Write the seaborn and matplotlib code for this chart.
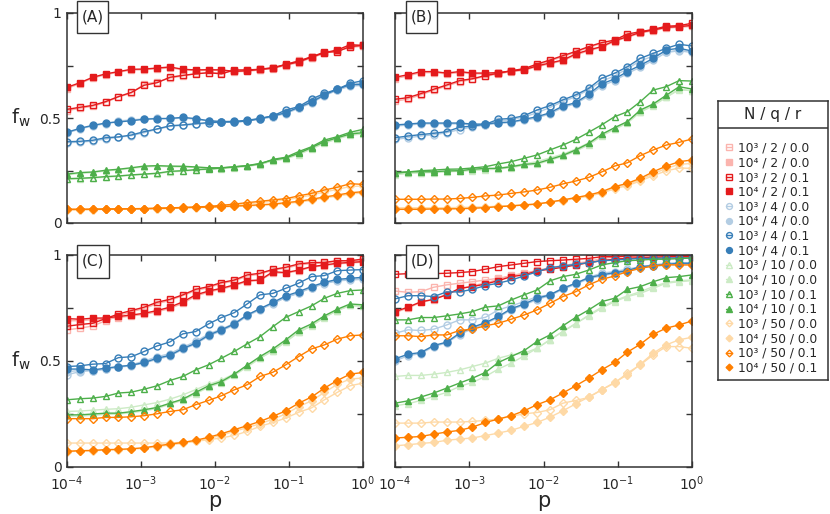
import numpy as np
import matplotlib
matplotlib.use("Agg")
import matplotlib.pyplot as plt
import seaborn as sns
from matplotlib.patches import Rectangle
from matplotlib.ticker import FixedLocator, FuncFormatter, NullLocator

# ---------------- data ----------------
P = np.logspace(-4, 0, 24)   # sampling grid of p

Q_VALUES = [2, 4, 10, 50]
N_LABELS = ["3", "4"]
R_VALUES = ["0.0", "0.1"]
N_TEXT = {"3": "10\u00b3", "4": "10\u2074"}

# Panel A
A_2_3_00 = [0.535,0.546,0.556,0.574,0.600,0.618,0.662,0.672,0.690,0.700,0.712,0.714,0.715,0.725,0.727,0.730,0.735,0.752,0.775,0.788,0.810,0.820,0.836,0.842]
A_2_4_00 = [0.640,0.664,0.690,0.706,0.718,0.728,0.730,0.734,0.738,0.730,0.726,0.727,0.727,0.720,0.722,0.729,0.737,0.750,0.764,0.786,0.808,0.821,0.845,0.842]
A_2_3_01 = [0.541,0.551,0.560,0.578,0.602,0.622,0.656,0.668,0.694,0.703,0.710,0.716,0.710,0.729,0.729,0.732,0.737,0.756,0.771,0.792,0.813,0.816,0.840,0.846]
A_2_4_01 = [0.646,0.668,0.694,0.710,0.721,0.732,0.733,0.738,0.743,0.732,0.729,0.730,0.729,0.722,0.725,0.732,0.740,0.754,0.767,0.790,0.811,0.824,0.849,0.846]
A_4_3_00 = [0.382,0.385,0.390,0.400,0.408,0.416,0.430,0.446,0.460,0.465,0.470,0.476,0.480,0.480,0.485,0.495,0.506,0.530,0.548,0.585,0.612,0.632,0.658,0.668]
A_4_4_00 = [0.428,0.448,0.462,0.473,0.486,0.491,0.496,0.498,0.496,0.500,0.494,0.486,0.482,0.482,0.487,0.495,0.506,0.521,0.546,0.571,0.606,0.632,0.652,0.655]
A_4_3_01 = [0.387,0.389,0.394,0.406,0.410,0.419,0.435,0.448,0.463,0.467,0.473,0.478,0.481,0.481,0.486,0.497,0.510,0.538,0.554,0.590,0.617,0.637,0.665,0.678]
A_4_4_01 = [0.432,0.451,0.465,0.476,0.481,0.487,0.494,0.497,0.498,0.503,0.497,0.487,0.483,0.484,0.489,0.498,0.510,0.525,0.551,0.576,0.610,0.637,0.659,0.660]
A_10_3_00 = [0.208,0.210,0.214,0.218,0.222,0.227,0.231,0.235,0.243,0.247,0.252,0.255,0.259,0.264,0.270,0.278,0.298,0.308,0.335,0.356,0.388,0.405,0.425,0.438]
A_10_4_00 = [0.230,0.236,0.240,0.248,0.253,0.260,0.267,0.270,0.268,0.267,0.264,0.260,0.261,0.265,0.270,0.280,0.295,0.305,0.326,0.352,0.380,0.400,0.418,0.424]
A_10_3_01 = [0.211,0.213,0.216,0.221,0.224,0.229,0.233,0.237,0.246,0.249,0.254,0.257,0.262,0.267,0.273,0.281,0.303,0.313,0.340,0.363,0.395,0.411,0.432,0.446]
A_10_4_01 = [0.233,0.240,0.243,0.251,0.256,0.263,0.271,0.273,0.271,0.270,0.267,0.263,0.263,0.268,0.273,0.284,0.300,0.310,0.332,0.359,0.387,0.406,0.424,0.430]
A_50_3_00 = [0.063,0.063,0.064,0.065,0.065,0.066,0.067,0.068,0.070,0.072,0.074,0.077,0.080,0.085,0.091,0.097,0.104,0.110,0.121,0.133,0.148,0.160,0.174,0.176]
A_50_4_00 = [0.063,0.063,0.064,0.065,0.065,0.066,0.067,0.068,0.069,0.071,0.073,0.074,0.076,0.079,0.081,0.084,0.087,0.093,0.099,0.108,0.119,0.128,0.138,0.143]
A_50_3_01 = [0.065,0.065,0.066,0.066,0.067,0.068,0.069,0.070,0.072,0.074,0.076,0.079,0.084,0.090,0.097,0.103,0.110,0.116,0.129,0.141,0.157,0.170,0.187,0.184]
A_50_4_01 = [0.065,0.065,0.065,0.067,0.067,0.068,0.068,0.070,0.071,0.073,0.075,0.076,0.078,0.081,0.083,0.087,0.090,0.097,0.103,0.113,0.124,0.133,0.144,0.149]

# Panel B
B_2_3_00 = [0.580,0.590,0.610,0.632,0.652,0.672,0.684,0.698,0.710,0.722,0.733,0.752,0.772,0.792,0.813,0.836,0.855,0.870,0.895,0.908,0.920,0.932,0.936,0.944]
B_2_4_00 = [0.688,0.700,0.716,0.716,0.710,0.716,0.710,0.710,0.713,0.720,0.727,0.744,0.758,0.772,0.800,0.820,0.836,0.864,0.884,0.904,0.916,0.928,0.932,0.936]
B_2_3_01 = [0.589,0.597,0.616,0.637,0.657,0.678,0.687,0.702,0.713,0.725,0.735,0.757,0.776,0.797,0.817,0.840,0.859,0.871,0.900,0.911,0.922,0.937,0.940,0.951]
B_2_4_01 = [0.694,0.706,0.721,0.721,0.714,0.721,0.714,0.714,0.716,0.724,0.730,0.748,0.762,0.776,0.805,0.824,0.840,0.868,0.887,0.908,0.919,0.932,0.935,0.941]
B_4_3_00 = [0.398,0.406,0.414,0.420,0.430,0.445,0.458,0.466,0.485,0.492,0.505,0.525,0.550,0.578,0.602,0.635,0.675,0.700,0.735,0.772,0.795,0.815,0.822,0.815]
B_4_4_00 = [0.462,0.466,0.472,0.472,0.472,0.472,0.468,0.468,0.474,0.478,0.489,0.500,0.520,0.550,0.568,0.605,0.652,0.678,0.712,0.742,0.775,0.812,0.820,0.812]
B_4_3_01 = [0.406,0.414,0.421,0.427,0.435,0.456,0.462,0.470,0.494,0.498,0.511,0.538,0.559,0.586,0.610,0.641,0.689,0.713,0.744,0.784,0.808,0.832,0.851,0.843]
B_4_4_01 = [0.467,0.471,0.476,0.476,0.476,0.476,0.471,0.471,0.478,0.481,0.494,0.506,0.525,0.557,0.573,0.613,0.662,0.686,0.721,0.751,0.784,0.824,0.832,0.819]
B_10_3_00 = [0.230,0.236,0.240,0.242,0.246,0.248,0.252,0.256,0.262,0.270,0.282,0.292,0.310,0.328,0.352,0.382,0.420,0.450,0.482,0.530,0.565,0.600,0.635,0.630]
B_10_4_00 = [0.232,0.238,0.240,0.240,0.244,0.246,0.250,0.254,0.256,0.264,0.274,0.280,0.298,0.318,0.342,0.372,0.414,0.446,0.476,0.528,0.558,0.598,0.636,0.630]
B_10_3_01 = [0.237,0.243,0.249,0.252,0.256,0.257,0.262,0.268,0.281,0.292,0.308,0.324,0.348,0.371,0.398,0.432,0.467,0.506,0.530,0.578,0.633,0.649,0.678,0.676]
B_10_4_01 = [0.240,0.244,0.244,0.244,0.248,0.249,0.256,0.260,0.260,0.268,0.279,0.284,0.303,0.322,0.348,0.379,0.422,0.454,0.483,0.538,0.567,0.608,0.649,0.638]
B_50_3_00 = [0.072,0.072,0.072,0.072,0.073,0.074,0.075,0.077,0.080,0.083,0.087,0.091,0.099,0.107,0.117,0.128,0.142,0.163,0.178,0.200,0.226,0.248,0.262,0.260]
B_50_4_00 = [0.070,0.070,0.070,0.070,0.071,0.072,0.073,0.076,0.079,0.082,0.086,0.090,0.099,0.108,0.118,0.130,0.145,0.167,0.183,0.206,0.235,0.260,0.279,0.284]
B_50_3_01 = [0.113,0.113,0.113,0.114,0.114,0.117,0.122,0.129,0.133,0.141,0.148,0.157,0.170,0.186,0.200,0.217,0.243,0.271,0.287,0.321,0.348,0.371,0.384,0.400]
B_50_4_01 = [0.065,0.065,0.065,0.067,0.067,0.068,0.070,0.073,0.078,0.081,0.086,0.090,0.100,0.110,0.121,0.133,0.149,0.173,0.189,0.213,0.244,0.271,0.292,0.300]

# Panel C
C_2_3_00 = [0.647,0.655,0.665,0.690,0.712,0.732,0.748,0.770,0.786,0.808,0.832,0.846,0.865,0.878,0.900,0.910,0.928,0.938,0.952,0.960,0.962,0.970,0.970,0.976]
C_2_4_00 = [0.690,0.690,0.695,0.698,0.705,0.712,0.720,0.732,0.748,0.772,0.806,0.825,0.838,0.855,0.874,0.880,0.915,0.914,0.925,0.942,0.950,0.958,0.962,0.966]
C_2_3_01 = [0.664,0.672,0.678,0.700,0.722,0.738,0.754,0.777,0.791,0.812,0.838,0.851,0.870,0.882,0.906,0.914,0.932,0.942,0.958,0.964,0.965,0.973,0.973,0.981]
C_2_4_01 = [0.700,0.697,0.702,0.703,0.710,0.717,0.725,0.738,0.754,0.779,0.812,0.830,0.843,0.859,0.879,0.882,0.921,0.917,0.929,0.945,0.953,0.961,0.965,0.969]
C_4_3_00 = [0.435,0.450,0.455,0.462,0.472,0.482,0.500,0.520,0.535,0.565,0.592,0.628,0.650,0.678,0.718,0.745,0.772,0.800,0.820,0.845,0.865,0.878,0.882,0.885]
C_4_4_00 = [0.450,0.455,0.455,0.460,0.470,0.478,0.490,0.508,0.523,0.555,0.580,0.617,0.642,0.670,0.712,0.742,0.770,0.800,0.821,0.846,0.866,0.880,0.885,0.889]
C_4_3_01 = [0.474,0.477,0.485,0.488,0.516,0.520,0.545,0.571,0.590,0.628,0.639,0.675,0.705,0.728,0.769,0.812,0.819,0.843,0.867,0.898,0.903,0.926,0.929,0.931]
C_4_4_01 = [0.462,0.462,0.458,0.466,0.474,0.480,0.493,0.513,0.527,0.559,0.584,0.622,0.647,0.675,0.717,0.747,0.776,0.807,0.827,0.851,0.871,0.885,0.890,0.895]
C_10_3_00 = [0.262,0.264,0.268,0.272,0.275,0.282,0.293,0.304,0.320,0.340,0.365,0.390,0.410,0.440,0.478,0.515,0.548,0.590,0.635,0.665,0.705,0.738,0.762,0.760]
C_10_4_00 = [0.240,0.240,0.244,0.248,0.250,0.256,0.265,0.276,0.296,0.315,0.346,0.376,0.398,0.432,0.472,0.512,0.548,0.592,0.638,0.668,0.706,0.738,0.762,0.758]
C_10_3_01 = [0.317,0.322,0.325,0.333,0.349,0.353,0.367,0.383,0.408,0.427,0.458,0.482,0.513,0.545,0.581,0.615,0.662,0.706,0.733,0.760,0.796,0.819,0.832,0.835]
C_10_4_01 = [0.246,0.246,0.250,0.254,0.254,0.261,0.270,0.281,0.301,0.320,0.352,0.383,0.403,0.438,0.480,0.521,0.557,0.600,0.647,0.675,0.713,0.744,0.769,0.765]
C_50_3_00 = [0.113,0.113,0.113,0.113,0.113,0.113,0.113,0.113,0.113,0.117,0.121,0.129,0.137,0.149,0.168,0.192,0.210,0.231,0.258,0.279,0.317,0.352,0.383,0.396]
C_50_4_00 = [0.072,0.075,0.076,0.080,0.081,0.084,0.088,0.096,0.104,0.112,0.121,0.134,0.150,0.168,0.186,0.204,0.226,0.250,0.285,0.312,0.352,0.390,0.415,0.420]
C_50_3_01 = [0.228,0.228,0.228,0.234,0.234,0.237,0.242,0.251,0.262,0.270,0.294,0.314,0.336,0.364,0.388,0.427,0.447,0.482,0.521,0.557,0.576,0.603,0.619,0.623]
C_50_4_01 = [0.074,0.077,0.078,0.082,0.083,0.086,0.091,0.100,0.108,0.116,0.126,0.140,0.157,0.176,0.195,0.215,0.239,0.265,0.301,0.330,0.372,0.408,0.438,0.446]

# Panel D
D_2_3_00 = [0.830,0.824,0.827,0.848,0.859,0.867,0.874,0.882,0.890,0.901,0.914,0.925,0.942,0.948,0.961,0.969,0.984,0.989,0.992,0.995,0.995,0.998,0.998,0.998]
D_2_4_00 = [0.728,0.750,0.776,0.790,0.815,0.838,0.855,0.868,0.885,0.905,0.912,0.928,0.936,0.945,0.955,0.965,0.974,0.980,0.985,0.988,0.990,0.992,0.992,0.993]
D_2_3_01 = [0.909,0.912,0.912,0.912,0.914,0.917,0.922,0.933,0.945,0.953,0.961,0.969,0.973,0.976,0.980,0.984,0.992,0.992,0.995,0.997,0.998,0.998,0.998,1.000]
D_2_4_01 = [0.733,0.754,0.779,0.791,0.812,0.843,0.851,0.863,0.879,0.898,0.906,0.925,0.933,0.942,0.953,0.964,0.973,0.980,0.984,0.987,0.989,0.992,0.992,0.992]
D_4_3_00 = [0.631,0.647,0.644,0.650,0.670,0.694,0.694,0.706,0.741,0.760,0.780,0.804,0.812,0.843,0.867,0.895,0.914,0.922,0.933,0.945,0.953,0.961,0.964,0.964]
D_4_4_00 = [0.500,0.525,0.535,0.568,0.585,0.625,0.652,0.676,0.705,0.742,0.764,0.790,0.808,0.838,0.862,0.888,0.902,0.913,0.922,0.940,0.946,0.952,0.956,0.957]
D_4_3_01 = [0.793,0.808,0.808,0.804,0.826,0.826,0.838,0.856,0.867,0.882,0.901,0.921,0.940,0.948,0.956,0.964,0.973,0.976,0.980,0.984,0.984,0.986,0.986,0.986]
D_4_4_01 = [0.510,0.532,0.540,0.573,0.589,0.631,0.659,0.681,0.710,0.747,0.769,0.796,0.812,0.843,0.867,0.893,0.906,0.917,0.926,0.945,0.950,0.956,0.961,0.961]
D_10_3_00 = [0.427,0.432,0.432,0.438,0.446,0.458,0.474,0.490,0.513,0.529,0.537,0.560,0.600,0.639,0.678,0.713,0.749,0.780,0.804,0.819,0.843,0.867,0.874,0.879]
D_10_4_00 = [0.289,0.298,0.314,0.333,0.352,0.380,0.399,0.427,0.462,0.490,0.524,0.560,0.600,0.639,0.675,0.717,0.754,0.785,0.807,0.827,0.851,0.870,0.879,0.882]
D_10_3_01 = [0.694,0.694,0.705,0.705,0.713,0.722,0.733,0.754,0.760,0.788,0.812,0.835,0.878,0.898,0.909,0.929,0.953,0.964,0.973,0.976,0.980,0.980,0.983,0.986]
D_10_4_01 = [0.301,0.312,0.330,0.349,0.372,0.396,0.419,0.446,0.493,0.521,0.549,0.592,0.623,0.666,0.706,0.741,0.780,0.796,0.838,0.851,0.874,0.893,0.898,0.906]
D_50_3_00 = [0.207,0.207,0.207,0.212,0.212,0.212,0.215,0.220,0.226,0.239,0.251,0.257,0.270,0.301,0.314,0.328,0.364,0.396,0.443,0.482,0.529,0.568,0.568,0.560]
D_50_4_00 = [0.100,0.105,0.111,0.116,0.126,0.132,0.137,0.148,0.160,0.173,0.192,0.210,0.235,0.265,0.298,0.330,0.364,0.399,0.435,0.485,0.537,0.576,0.600,0.612]
D_50_3_01 = [0.619,0.619,0.615,0.623,0.623,0.644,0.650,0.666,0.678,0.697,0.717,0.741,0.772,0.804,0.827,0.859,0.885,0.901,0.922,0.937,0.948,0.954,0.953,0.953]
D_50_4_01 = [0.137,0.140,0.144,0.155,0.165,0.173,0.188,0.210,0.226,0.242,0.265,0.294,0.317,0.349,0.383,0.419,0.458,0.493,0.542,0.579,0.626,0.655,0.670,0.689]

PANELS = ["A", "B", "C", "D"]

# ---------------- style ----------------
sns.set_style("ticks")
plt.rcParams["font.family"] = ["DejaVu Sans"]
plt.rcParams["mathtext.fontset"] = "dejavusans"

DARK = {2: "#e41a1c", 4: "#377eb8", 10: "#4daf4a", 50: "#ff7f00"}
LIGHT = {2: "#fbb4ae", 4: "#b3cde3", 10: "#ccebc5", 50: "#fed9a6"}
MARK = {2: "s", 4: "o", 10: "^", 50: "D"}
MSIZE = {2: 5.0, 4: 5.0, 10: 5.0, 50: 4.0}
SPINE = "#333333"

W, H = 830, 514
fig = plt.figure(figsize=(W / 100, H / 100), dpi=100)

# pixel boxes (left, top, right, bottom)
BOXES = {"A": (67, 13, 363, 223), "B": (395, 13, 692, 223),
         "C": (67, 255, 363, 467), "D": (395, 255, 692, 467)}
LBOX = {"A": (77, 1, 108, 33), "B": (406, 1, 437, 33),
        "C": (77, 245, 109, 278), "D": (406, 245, 438, 278)}


def frac(l, t, r, b):
    return [l / W, 1 - b / H, (r - l) / W, (b - t) / H]


axes = {}
for pan in PANELS:
    ax = fig.add_axes(frac(*BOXES[pan]))
    axes[pan] = ax
    g = globals()
    for q in Q_VALUES:
        for r in R_VALUES:
            for n in N_LABELS:
                name = f"{pan}_{q}_{n}_{r.replace('.', '')}"
                vals = g[name]
                col = DARK[q] if r == "0.1" else LIGHT[q]
                filled = (n == "4")
                sns.lineplot(x=P, y=vals, ax=ax, color=col, marker=MARK[q],
                             markersize=MSIZE[q],
                             markerfacecolor=col if filled else "none",
                             markeredgecolor=col, markeredgewidth=1.0,
                             linewidth=1.0, legend=False,
                             label=f"{N_TEXT[n]} / {q} / {r}")
    ax.set_xscale("log")
    ax.set_xlim(1e-4, 1)
    ax.set_ylim(0, 1)
    ax.xaxis.set_major_locator(FixedLocator([1e-4, 1e-3, 1e-2, 1e-1, 1]))
    ax.xaxis.set_minor_locator(NullLocator())
    ax.yaxis.set_major_locator(FixedLocator([0, 0.25, 0.5, 0.75, 1]))
    ax.yaxis.set_major_formatter(FuncFormatter(
        lambda v, pos: {0.0: "0", 0.5: "0.5", 1.0: "1"}.get(round(v, 2), "")))
    ax.tick_params(which="both", direction="in", top=True, right=True,
                   length=4, width=1, labelsize=10, color=SPINE, pad=4)
    ax.tick_params(axis="x", pad=5)
    for s in ax.spines.values():
        s.set_color(SPINE)
        s.set_linewidth(1.1)
    ax.set_xlabel("")
    ax.set_ylabel("")
    if pan in ("A", "B"):
        ax.tick_params(labelbottom=False)
    else:
        ax.set_xlabel("p", fontsize=15, va="top")
        ax.xaxis.set_label_coords(0.5, -0.112)
    if pan in ("B", "D"):
        ax.tick_params(labelleft=False)
    else:
        ax.set_ylabel(r"f$_\mathregular{w}$", fontsize=14, rotation=0,
                      ha="center", va="center")
        ax.yaxis.set_label_coords(-0.155, 0.5)

    # panel label box
    l, t, r_, b = LBOX[pan]
    fig.add_artist(Rectangle((l / W, 1 - b / H), (r_ - l) / W, (b - t) / H,
                             transform=fig.transFigure, facecolor="white",
                             edgecolor=SPINE, linewidth=1.0, zorder=10))
    fig.text((l + r_) / 2 / W, 1 - (t + b) / 2 / H, f"({pan})", fontsize=11,
             ha="center", va="center", zorder=11)

# ---------------- legend ----------------
lax = fig.add_axes(frac(718, 101, 828, 380))
lax.set_xticks([])
lax.set_yticks([])
lax.set_xlim(0, 1)
lax.set_ylim(0, 1)
for s in lax.spines.values():
    s.set_color(SPINE)
    s.set_linewidth(1.1)
lax.axhline((380 - 128) / 279, color=SPINE, linewidth=1.1)
lax.text(0.5, (380 - 115) / 279, "N / q / r", fontsize=11, ha="center",
         va="center")
handles = axes["A"].get_lines()
labels = [h.get_label() for h in handles]
lax.legend(handles, labels, loc="upper left", bbox_to_anchor=(0.075, 0.854),
           frameon=False, fontsize=8.8, handlelength=0.4, handletextpad=0.55,
           labelspacing=0.135, borderaxespad=0, borderpad=0, markerscale=0.85)

fig.savefig("out.png", dpi=100)
